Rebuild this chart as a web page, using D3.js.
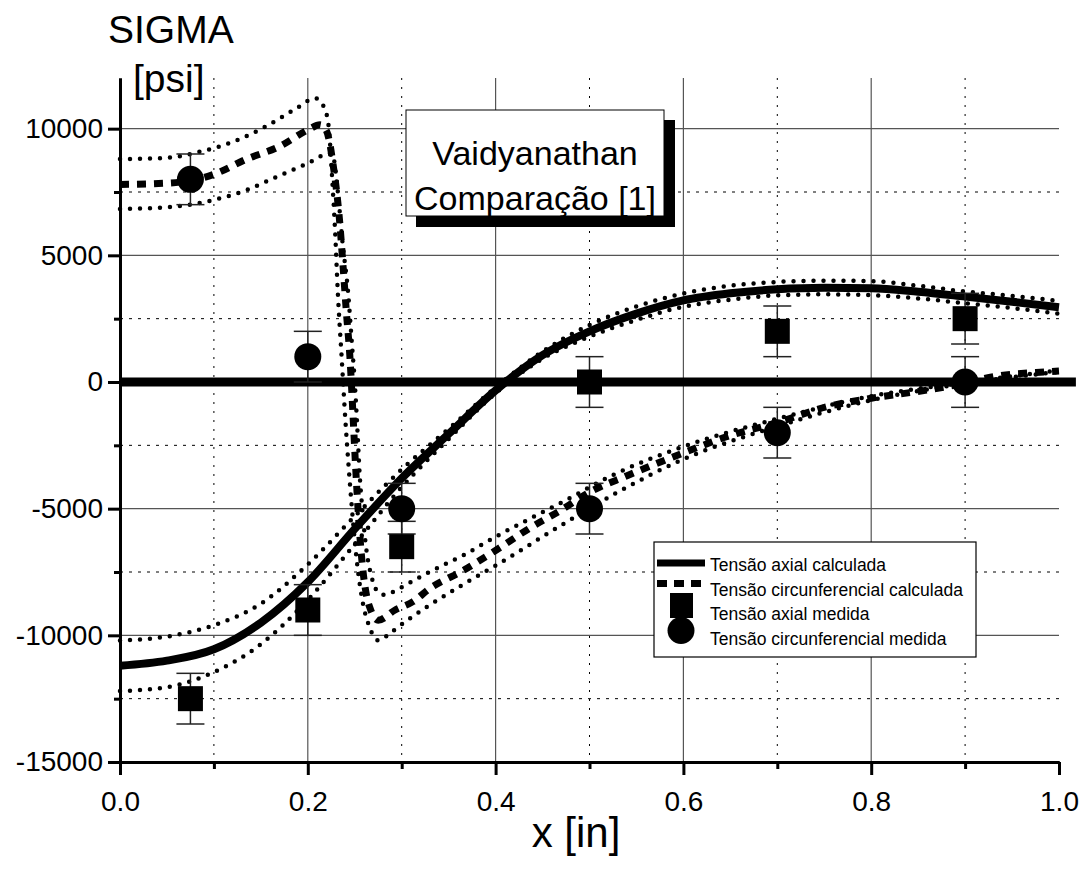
<!DOCTYPE html>
<html>
<head>
<meta charset="utf-8">
<script src="https://cdn.jsdelivr.net/npm/d3@7/dist/d3.min.js"></script>
<style>
  body { margin: 0; background: #fff; }
  svg { display: block; font-family: "Liberation Sans", Arial, sans-serif; }
</style>
</head>
<body>
<svg id="chart"></svg>
<script>
// ---- data ----
const axialX   = [0, 0.05, 0.1, 0.15, 0.2, 0.25, 0.3, 0.35, 0.4, 0.45, 0.5, 0.55, 0.6, 0.65, 0.7, 0.75, 0.8, 0.85, 0.9, 0.95, 1.0];
const axialY   = [-11200, -11000, -10550, -9500, -7900, -5800, -3800, -2050, -330, 1060, 2000, 2700, 3220, 3500, 3660, 3720, 3700, 3560, 3370, 3170, 2950];
const axialUpY = [-10200, -10050, -9600, -8750, -7200, -5300, -3450, -1850, -220, 1200, 2250, 2980, 3500, 3800, 3950, 4000, 3980, 3800, 3570, 3400, 3200];
const axialLoY = [-12200, -12050, -11450, -10350, -8600, -6400, -4150, -2250, -440, 920, 1790, 2450, 2970, 3250, 3420, 3460, 3430, 3300, 3110, 2920, 2700];

const circX = [0, 0.05, 0.075, 0.1, 0.135, 0.17, 0.2, 0.213, 0.22, 0.227, 0.234, 0.2375, 0.241, 0.245, 0.248, 0.251, 0.254, 0.2575, 0.261, 0.266, 0.275, 0.293, 0.312, 0.33, 0.365, 0.4, 0.435, 0.47, 0.5, 0.54, 0.6, 0.646, 0.7, 0.753, 0.8, 0.859, 0.9, 0.93, 0.987, 1.0];
const circY = [7800, 7850, 7950, 8200, 8800, 9300, 9950, 10150, 9900, 8570, 6300, 4600, 2800, 900, -1200, -3400, -5300, -7000, -8100, -8900, -9400, -9000, -8670, -8150, -7450, -6650, -5800, -5050, -4350, -3700, -2800, -2160, -1600, -975, -640, -320, -40, 210, 400, 430];

const circUpX = [0, 0.05, 0.085, 0.121, 0.156, 0.188, 0.208, 0.217, 0.222, 0.226, 0.229, 0.232, 0.236, 0.24, 0.244, 0.247, 0.252, 0.258, 0.265, 0.275, 0.285, 0.295, 0.31, 0.33, 0.365, 0.4, 0.47, 0.53, 0.6, 0.7, 0.8, 0.9, 1.0];
const circUpY = [8800, 8850, 9090, 9490, 10100, 10800, 11200, 10870, 10150, 8000, 6000, 3500, 1000, -1500, -3600, -5000, -7000, -8600, -9600, -10200, -10000, -9700, -9300, -8800, -8000, -7250, -5650, -4350, -3050, -1750, -720, -60, 400];

const circLoX = [0, 0.057, 0.1, 0.135, 0.167, 0.2, 0.224, 0.227, 0.232, 0.237, 0.243, 0.247, 0.25, 0.253, 0.255, 0.258, 0.262, 0.268, 0.275, 0.282, 0.29, 0.3, 0.33, 0.365, 0.4, 0.472, 0.529, 0.6, 0.7, 0.8, 0.9, 1.0];
const circLoY = [6830, 6920, 7190, 7580, 8100, 8630, 9030, 8900, 7500, 5500, 3500, 1500, 0, -2000, -3500, -5000, -6500, -7700, -8300, -8400, -8300, -8100, -7490, -6850, -6110, -4720, -3600, -2550, -1450, -560, -20, 460];

const zeroX = [0, 1.018];
const zeroY = [0, 0];

const measX     = [0.075, 0.2, 0.3, 0.5, 0.7, 0.9];
const axialMeas = [-12500, -9000, -6500, 0, 2000, 2500];
const circMeas  = [8000, 1000, -5000, -5000, -2000, 0];
const measErr   = 1000;

const yTicks      = [-15000, -10000, -5000, 0, 5000, 10000];
const yMinorTicks = [-12500, -7500, -2500, 2500, 7500];
const xTicks      = [0, 0.2, 0.4, 0.6, 0.8, 1.0];
const xMinorTicks = [0.1, 0.3, 0.5, 0.7, 0.9];

const legendLabels = [
  "Tensão axial calculada",
  "Tensão circunferencial calculada",
  "Tensão axial medida",
  "Tensão circunferencial medida"
];
const noteLines = ["Vaidyanathan", "Comparação [1]"];

// ---- layout ----
let width = 1086, height = 881;
let margin = ({top: 78, right: 27, bottom: 119, left: 120});

let x = d3.scaleLinear().domain([0, 1]).range([margin.left, width - margin.right]);
let y = d3.scaleLinear().domain([-15000, 12000]).range([height - margin.bottom, margin.top]);

const svg = d3.select('#chart').attr('width', width).attr('height', height);
svg.append('rect').attr('width', width).attr('height', height).attr('fill', '#fff');

// grid
const grid = svg.append('g');
grid.selectAll('.hmaj').data(yTicks.filter(d => d > -15000)).enter().append('line')
  .attr('x1', x(0)).attr('x2', x(1)).attr('y1', d => y(d)).attr('y2', d => y(d))
  .attr('stroke', '#555').attr('stroke-width', 1.2);
grid.selectAll('.hmin').data(yMinorTicks).enter().append('line')
  .attr('x1', x(0)).attr('x2', x(1)).attr('y1', d => y(d)).attr('y2', d => y(d))
  .attr('stroke', '#000').attr('stroke-width', 1).attr('stroke-dasharray', '3,6');
grid.selectAll('.vmaj').data(xTicks.filter(d => d > 0 && d < 1)).enter().append('line')
  .attr('x1', d => x(d)).attr('x2', d => x(d)).attr('y1', y(12000)).attr('y2', y(-15000))
  .attr('stroke', '#555').attr('stroke-width', 1.2);
grid.selectAll('.vmin').data(xMinorTicks).enter().append('line')
  .attr('x1', d => x(d)).attr('x2', d => x(d)).attr('y1', y(12000)).attr('y2', y(-15000))
  .attr('stroke', '#000').attr('stroke-width', 1).attr('stroke-dasharray', '2,7');

// lines
let pts = (xs, ys) => xs.map((v, i) => [v, ys[i]]);
let line = d3.line().x(d => x(d[0])).y(d => y(d[1])).curve(d3.curveMonotoneX);

const curves = svg.append('g').attr('fill', 'none').attr('stroke', '#000');
curves.append('path').attr('d', line(pts(zeroX, zeroY))).attr('stroke-width', 9);
curves.append('path').attr('d', line(pts(axialX, axialY))).attr('stroke-width', 8);
[axialUpY, axialLoY].forEach(ys => {
  curves.append('path').attr('d', line(pts(axialX, ys)))
    .attr('stroke-width', 4.5).attr('stroke-linecap', 'round').attr('stroke-dasharray', '0,10');
});
curves.append('path').attr('d', line(pts(circX, circY)))
  .attr('stroke-width', 7).attr('stroke-dasharray', '9,8');
[[circUpX, circUpY], [circLoX, circLoY]].forEach(([xs, ys]) => {
  curves.append('path').attr('d', line(pts(xs, ys)))
    .attr('stroke-width', 4.5).attr('stroke-linecap', 'round').attr('stroke-dasharray', '0,10');
});

// measured points with error bars
const meas = measX.map((v, i) => ({x: v, a: axialMeas[i], c: circMeas[i]}));
const errs = svg.append('g').attr('stroke', '#222').attr('stroke-width', 1.5);
['a', 'c'].forEach(k => {
  const g = errs.selectAll('.e' + k).data(meas).enter().append('g');
  g.append('line').attr('x1', d => x(d.x)).attr('x2', d => x(d.x))
    .attr('y1', d => y(d[k] + measErr)).attr('y2', d => y(d[k] - measErr));
  [measErr, -measErr].forEach(e => {
    g.append('line').attr('x1', d => x(d.x) - 14).attr('x2', d => x(d.x) + 14)
      .attr('y1', d => y(d[k] + e)).attr('y2', d => y(d[k] + e));
  });
});
svg.selectAll('.sq').data(meas).enter().append('rect')
  .attr('x', d => x(d.x) - 12.5).attr('y', d => y(d.a) - 12.5)
  .attr('width', 25).attr('height', 25).attr('fill', '#000');
svg.selectAll('.ci').data(meas).enter().append('circle')
  .attr('cx', d => x(d.x)).attr('cy', d => y(d.c)).attr('r', 13.5).attr('fill', '#000');

// axes
let yAxis = g => g
  .attr('transform', `translate(${margin.left},0)`)
  .call(d3.axisLeft(y).tickValues(yTicks).tickSize(12).tickSizeOuter(0).tickPadding(5).tickFormat(d => String(d)));
let yMinor = g => g
  .attr('transform', `translate(${margin.left},0)`)
  .call(d3.axisLeft(y).tickValues(yMinorTicks).tickSize(6).tickSizeOuter(0).tickFormat(''));
let xAxis = g => g
  .attr('transform', `translate(0,${y(-15000)})`)
  .call(d3.axisBottom(x).tickValues(xTicks).tickSize(13).tickSizeOuter(0).tickPadding(16).tickFormat(d => d.toFixed(1)));
let xMinor = g => g
  .attr('transform', `translate(0,${y(-15000)})`)
  .call(d3.axisBottom(x).tickValues(xMinorTicks).tickSize(7).tickSizeOuter(0).tickFormat(''));

[yMinor, xMinor, yAxis, xAxis].forEach(ax => {
  const g = svg.append('g').call(ax);
  g.selectAll('.domain').attr('stroke', '#000').attr('stroke-width', 3);
  g.selectAll('.tick line').attr('stroke', '#000').attr('stroke-width', 3);
  g.selectAll('.tick text').attr('fill', '#000').attr('font-size', 28)
    .attr('font-family', '"Liberation Sans", Arial, sans-serif');
});

// axis titles
svg.append('text').attr('x', 108).attr('y', 43).attr('font-size', 39).text('SIGMA');
svg.append('text').attr('x', 133).attr('y', 92).attr('font-size', 39).text('[psi]');
svg.append('text').attr('x', 576).attr('y', 847).attr('font-size', 42)
  .attr('text-anchor', 'middle').text('x [in]');

// annotation box with shadow
const note = svg.append('g');
note.append('rect').attr('x', 416).attr('y', 120).attr('width', 259).attr('height', 107).attr('fill', '#000');
note.append('rect').attr('x', 406).attr('y', 110).attr('width', 258).attr('height', 106)
  .attr('fill', '#fff').attr('stroke', '#000').attr('stroke-width', 1);
note.selectAll('.nt').data(noteLines).enter().append('text')
  .attr('x', 535).attr('y', (d, i) => 165 + i * 45).attr('font-size', 34)
  .attr('text-anchor', 'middle').text(d => d);

// legend
const legend = svg.append('g').attr('transform', 'translate(654,542)');
legend.append('rect').attr('width', 322).attr('height', 115)
  .attr('fill', '#fff').attr('stroke', '#000').attr('stroke-width', 1.2);
const rowY = i => 23 + i * 24.5;
legend.append('line').attr('x1', 3).attr('x2', 51).attr('y1', rowY(0) - 2).attr('y2', rowY(0) - 2)
  .attr('stroke', '#000').attr('stroke-width', 7);
legend.append('line').attr('x1', 3).attr('x2', 51).attr('y1', rowY(1) - 6).attr('y2', rowY(1) - 6)
  .attr('stroke', '#000').attr('stroke-width', 7).attr('stroke-dasharray', '10,7');
legend.append('rect').attr('x', 16).attr('y', rowY(2) - 21).attr('width', 23).attr('height', 25).attr('fill', '#000');
legend.append('circle').attr('cx', 27).attr('cy', rowY(3) - 8).attr('r', 13.5).attr('fill', '#000');
legend.selectAll('.lt').data(legendLabels).enter().append('text')
  .attr('x', 56).attr('y', (d, i) => rowY(i) + 6).attr('font-size', 17.5).text(d => d);
</script>
</body>
</html>
